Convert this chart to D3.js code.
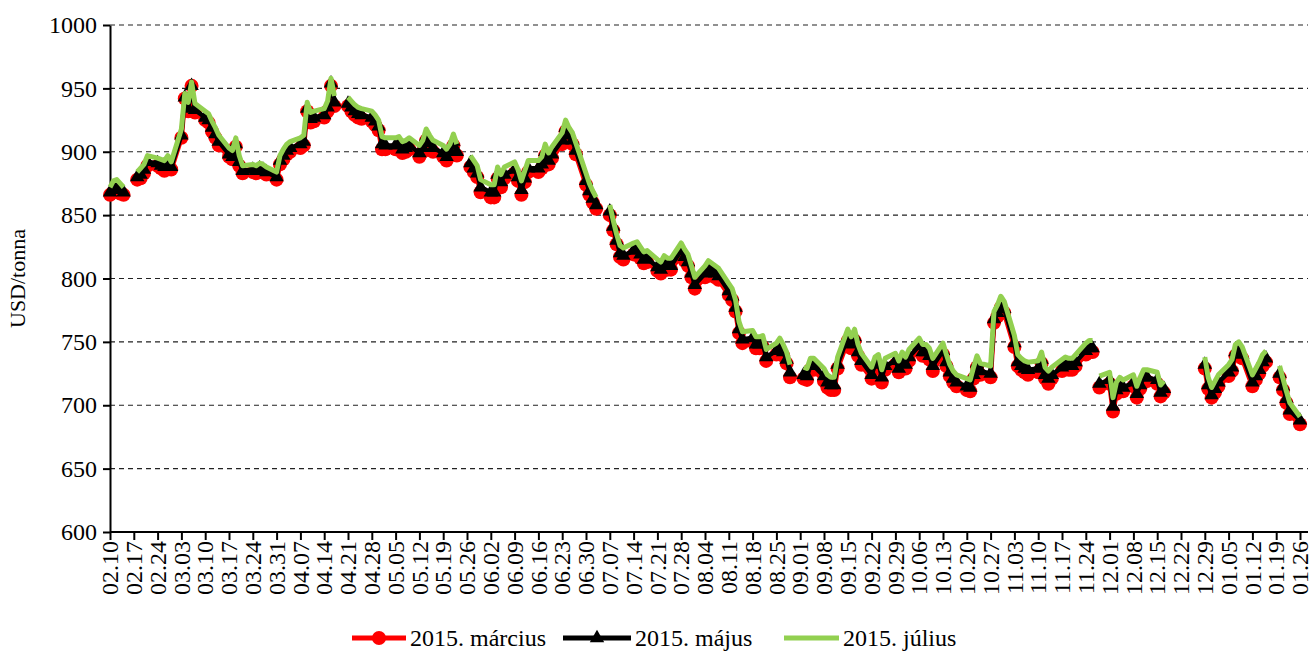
<!DOCTYPE html>
<meta charset="utf-8">
<html>
<head>
<title>Aluminium futures 2014-2015</title>
<script src="https://d3js.org/d3.v7.min.js"></script>
<style>
  body { margin: 0; background: #fff; }
  text { font-family: "Liberation Serif", "Times New Roman", serif; fill: #000; }
  .grid line { stroke: #222; stroke-width: 1.2; stroke-dasharray: 5,4; }
  .axis path, .axis line { stroke: #000; stroke-width: 2; }
</style>
</head>
<body>
<svg width="1313" height="651"></svg>
<script>

//___________________________________DATA_______________________________________________________
// one tick per week (Mondays), values are Mon..Fri of each week, null = no quote
var weekLabels = ["02.10","02.17","02.24","03.03","03.10","03.17","03.24","03.31","04.07","04.14",
  "04.21","04.28","05.05","05.12","05.19","05.26","06.02","06.09","06.16","06.23",
  "06.30","07.07","07.14","07.21","07.28","08.04","08.11","08.18","08.25","09.01",
  "09.08","09.15","09.22","09.29","10.06","10.13","10.20","10.27","11.03","11.10",
  "11.17","11.24","12.01","12.08","12.15","12.22","12.29","01.05","01.12","01.19","01.26"];

var seriesNames = ["2015. március", "2015. május", "2015. július"];

var marcius = [
  866, 868, 869, 867, 866,   null, 878, 879, 883, 889,   889, 887, 885, 889, 886,
  911, 942, 932, 952, 931,   925, 923, 916, 911, 905,   896, 894, 904, 889, 883,
  884, 883, 885, 884, 882,   878, 890, 894, 898, 900,   903, 905, 932, 923, 924,
  927, 932, 952, 936, null,  936, 932, 929, 927, 926,   924, 921, 917, 902, 902,
  902, 903, 899, 900, 902,   896, 900, 909, 904, 900,   896, 893, 897, 905, 897,
  null, 888, 884, 880, 868,  864, 864, 879, 872, 879,   883, 877, 866, 876, 884,
  884, 887, 897, 890, 895,   906, 916, 910, 906, 898,   874, 866, 860, 855, null,
  850, 838, 827, 817, 815,   819, 821, 816, 812, 813,   806, 804, 809, 807, 807,
  819, 814, 810, 801, 792,   801, 805, 803, 801, 799,   787, 783, 774, 757, 749,
  750, 745, 745, 746, 735,   740, 744, 739, 733, 722,   null, 721, 720, 728, 728,
  719, 714, 712, 712, 729,   751, 745, 751, 739, 732,   721, 729, 731, 718, 728,
  732, 726, 733, 729, 735,   744, 739, 739, 736, 727,   740, 731, 723, 718, 715,
  712, 711, 721, 730, 724,   722, 765, 770, 777, 773,   746, 731, 728, 726, 724,
  726, 733, 721, 717, 721,   727, 729, 728, 728, 731,   740, 742, 742, null, 714,
  717, 695, 709, 713, 711,   715, 706, 713, 719, 719,   717, 707, 710, null, null,
  null, null, null, null, null,  729, 713, 706, 710, 715,  723, 727, 739, 741, 737,
  715, 720, 725, 731, 734,   null, 722, 712, 702, 693,   685
];

var majus = [
  868, 871, 872, 870, 868,   null, 880, 882, 886, 892,   891, 889, 888, 892, 888,
  913, 943, 934, 952, 933,   927, 925, 919, 914, 908,   898, 896, 906, 892, 885,
  886, 885, 887, 886, 884,   880, 893, 897, 901, 903,   906, 908, 934, 926, 927,
  929, 935, 954, 939, null,  938, 935, 932, 930, 929,   927, 924, 920, 906, 905,
  905, 906, 902, 903, 905,   899, 903, 912, 907, 903,   899, 896, 900, 908, 900,
  null, 891, 887, 883, 872,  868, 868, 882, 876, 882,   886, 880, 870, 879, 887,
  887, 890, 900, 893, 898,   909, 919, 913, 909, 901,   877, 869, 863, 858, null,
  853, 841, 830, 820, 818,   822, 824, 819, 815, 816,   809, 807, 812, 810, 810,
  822, 817, 813, 804, 795,   804, 808, 806, 804, 802,   790, 786, 777, 760, 752,
  753, 748, 748, 749, 738,   743, 747, 742, 736, 726,   null, 724, 723, 731, 731,
  723, 718, 716, 716, 732,   754, 748, 754, 742, 735,   724, 732, 734, 722, 731,
  735, 729, 736, 732, 738,   747, 742, 742, 739, 731,   743, 734, 726, 721, 718,
  715, 714, 724, 733, 727,   725, 768, 773, 780, 776,   749, 734, 731, 729, 728,
  729, 736, 724, 721, 724,   730, 732, 731, 731, 734,   743, 745, 745, null, 717,
  720, 699, 712, 716, 714,   718, 709, 716, 722, 722,   720, 710, 713, null, null,
  null, null, null, null, null,  732, 716, 708, 713, 718,  726, 730, 742, 744, 740,
  718, 723, 728, 734, 737,   null, 725, 715, 705, 696,   688
];

var julius = [
  872, 877, 878, 875, 872,   null, 884, 887, 890, 897,   895, 894, 893, 897, 892,
  918, 946, 939, 955, 938,   932, 930, 924, 919, 913,   903, 901, 911, 897, 889,
  890, 889, 891, 890, 888,   884, 897, 902, 906, 908,   911, 913, 939, 931, 932,
  934, 940, 958, 944, null,  943, 940, 937, 935, 934,   932, 929, 925, 912, 911,
  911, 912, 908, 909, 911,   905, 909, 918, 913, 909,   905, 902, 906, 914, 906,
  null, 897, 893, 889, 878,  874, 874, 888, 882, 888,   892, 886, 877, 885, 893,
  893, 896, 906, 899, 904,   915, 925, 919, 915, 907,   883, 875, 869, 864, null,
  858, 846, 835, 826, 824,   828, 829, 825, 821, 822,   815, 813, 818, 816, 816,
  828, 823, 819, 810, 801,   810, 814, 812, 810, 808,   796, 792, 783, 766, 758,
  759, 754, 754, 755, 744,   749, 753, 748, 742, 732,   null, 730, 729, 737, 737,
  729, 724, 722, 722, 738,   760, 754, 760, 748, 741,   730, 738, 740, 728, 737,
  741, 735, 742, 738, 744,   753, 748, 748, 745, 737,   749, 740, 732, 727, 724,
  721, 720, 730, 739, 733,   731, 774, 779, 786, 782,   755, 740, 737, 735, 734,
  735, 742, 730, 727, 730,   736, 738, 737, 737, 740,   749, 751, 751, null, 723,
  726, 706, 718, 722, 720,   724, 715, 722, 728, 728,   726, 716, 719, null, null,
  null, null, null, null, null,  738, 722, 714, 719, 724,  732, 736, 748, 750, 746,
  724, 729, 734, 740, 743,   null, 731, 721, 711, 702,   691
];

//___________________________________CONSTANTS_______________________________________________________
var svg = d3.select("svg"),
    plotLeft = 110, plotRight = 1300, plotTop = 25, plotBottom = 532;

var start = new Date(2014, 1, 10);
function addDays(d, n) { return new Date(d.getFullYear(), d.getMonth(), d.getDate() + n); }

var tickDates = weekLabels.map(function(l, i) { return addDays(start, 7 * i); });

// trading days: Mon..Fri of every week, last week only the Monday
var days = [];
tickDates.forEach(function(d, i) {
  var n = (i == tickDates.length - 1) ? 1 : 5;
  for (var j = 0; j < n; j++) days.push(addDays(d, j));
});

var x = d3.scaleTime().domain([start, tickDates[tickDates.length - 1]]).range([plotLeft, plotRight]);
var y = d3.scaleLinear().domain([600, 1000]).range([plotBottom, plotTop]);

function toPoints(arr) { return arr.map(function(v, i) { return {date: days[i], v: v}; }); }

var line = d3.line()
    .defined(function(d) { return d.v != null; })
    .x(function(d) { return x(d.date); })
    .y(function(d) { return y(d.v); });

//___________________________________GRID + AXES_______________________________________________________
svg.append("g").attr("class", "grid")
  .selectAll("line")
  .data(d3.range(650, 1001, 50))
  .enter().append("line")
    .attr("x1", plotLeft).attr("x2", 1308)
    .attr("y1", function(d) { return y(d); })
    .attr("y2", function(d) { return y(d); });

var yAxis = svg.append("g").attr("class", "axis")
    .attr("transform", "translate(" + plotLeft + ",0)")
    .call(d3.axisLeft(y).tickValues(d3.range(600, 1001, 50)).tickSize(7).tickSizeOuter(0).tickPadding(6)
      .tickFormat(d3.format("d")));
yAxis.selectAll("text").style("font-size", "24px");

var xAxis = svg.append("g").attr("class", "axis")
    .attr("transform", "translate(0," + plotBottom + ")")
    .call(d3.axisBottom(x).tickValues(tickDates).tickSize(8).tickSizeOuter(0)
      .tickFormat(function(d, i) { return weekLabels[i]; }));
xAxis.select(".domain").attr("d", "M" + plotLeft + ",0H1308");
xAxis.selectAll("text")
    .style("font-size", "24px")
    .attr("text-anchor", "end")
    .attr("transform", "rotate(-90)")
    .attr("x", -9).attr("y", 0).attr("dy", "0.32em");

svg.append("text")
    .attr("transform", "translate(25," + (plotTop + plotBottom) / 2 + ") rotate(-90)")
    .attr("text-anchor", "middle")
    .style("font-size", "22px")
    .text("USD/tonna");

//___________________________________SERIES_______________________________________________________
var red = toPoints(marcius), black = toPoints(majus), green = toPoints(julius);

svg.append("path").datum(red)
    .attr("fill", "none").attr("stroke", "#ff0000").attr("stroke-width", 5)
    .attr("stroke-linejoin", "round").attr("d", line);
svg.append("g").selectAll("circle")
    .data(red.filter(function(d) { return d.v != null; }))
    .enter().append("circle")
      .attr("cx", function(d) { return x(d.date); })
      .attr("cy", function(d) { return y(d.v); })
      .attr("r", 7).attr("fill", "#ff0000");

svg.append("path").datum(black)
    .attr("fill", "none").attr("stroke", "#000").attr("stroke-width", 4.5)
    .attr("stroke-linejoin", "round").attr("d", line);
var tri = d3.symbol().type(d3.symbolTriangle).size(90);
svg.append("g").selectAll("path")
    .data(black.filter(function(d) { return d.v != null; }))
    .enter().append("path")
      .attr("d", tri)
      .attr("transform", function(d) { return "translate(" + x(d.date) + "," + y(d.v) + ")"; })
      .attr("fill", "#000");

svg.append("path").datum(green)
    .attr("fill", "none").attr("stroke", "#92d050").attr("stroke-width", 5)
    .attr("stroke-linejoin", "round").attr("d", line);

//___________________________________LEGEND_______________________________________________________
var legendX = [352, 563, 784], legendLen = [54, 68, 55], legendColors = ["#ff0000", "#000", "#92d050"];
var legend = svg.append("g").selectAll("g")
    .data(seriesNames)
    .enter().append("g")
      .attr("transform", function(d, i) { return "translate(" + legendX[i] + ",638)"; });
legend.append("line")
    .attr("x1", 0).attr("x2", function(d, i) { return legendLen[i]; }).attr("y1", 0).attr("y2", 0)
    .attr("stroke", function(d, i) { return legendColors[i]; })
    .attr("stroke-width", 5);
legend.filter(function(d, i) { return i == 0; }).append("circle")
    .attr("cx", 27).attr("cy", 0).attr("r", 7).attr("fill", "#ff0000");
legend.filter(function(d, i) { return i == 1; }).append("path")
    .attr("d", tri).attr("transform", "translate(34,0)").attr("fill", "#000");
legend.append("text")
    .attr("x", function(d, i) { return legendLen[i] + 4; }).attr("y", 0).attr("dy", "0.35em")
    .style("font-size", "24px")
    .text(function(d) { return d; });

</script>
</body>
</html>
